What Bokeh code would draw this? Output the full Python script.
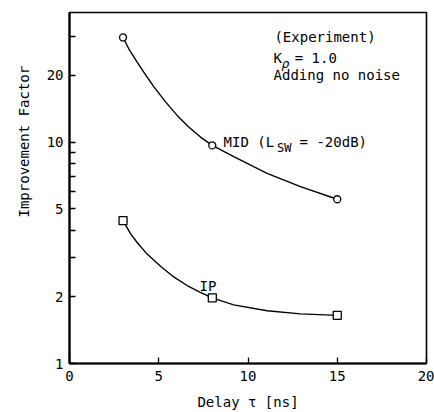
from bokeh.plotting import figure
from bokeh.models import Label, FixedTicker, Range1d
from bokeh.embed import file_html
from bokeh.resources import INLINE

# measured points
delay = [3, 8, 15]
mid_vals = [29.7, 9.66, 5.52]
ip_vals = [4.42, 1.98, 1.65]

# hand-drawn smooth curves
mid_curve_x = [3, 3.32, 3.79, 4.16, 4.72, 5.38, 6.03, 6.68, 7.34, 8, 9.2, 11.07, 12.94, 15]
mid_curve_y = [29.7, 26.4, 23.0, 20.7, 17.8, 15.2, 13.2, 11.7, 10.54, 9.66, 8.59, 7.23, 6.29, 5.52]
ip_curve_x = [3, 3.42, 3.79, 4.35, 5.1, 5.84, 6.59, 7.3, 8, 9.2, 11.07, 12.94, 15]
ip_curve_y = [4.42, 3.86, 3.52, 3.12, 2.75, 2.46, 2.25, 2.1, 1.98, 1.84, 1.73, 1.675, 1.65]

x_ticks = [0, 5, 10, 15, 20]
y_ticks = [1, 2, 3, 4, 5, 6, 7, 8, 9, 10, 20, 30]
y_labelled = [1, 2, 5, 10, 20]

FONT = "DejaVu Sans Mono"

p = figure(width=434, height=412, y_axis_type="log",
           x_range=Range1d(0, 20), y_range=Range1d(1, 38.5),
           output_backend="svg", toolbar_location=None,
           min_border_left=69, min_border_right=8, min_border_top=12,
           min_border_bottom=48)
p.grid.visible = False
p.outline_line_color = "black"
p.outline_line_width = 1.6
p.background_fill_color = "white"
p.border_fill_color = "white"

for ax in (p.xaxis[0], p.yaxis[0]):
    ax.axis_line_width = 2.2
    ax.axis_line_color = "black"
    ax.major_tick_in = 6
    ax.major_tick_out = 0
    ax.major_tick_line_width = 1.3
    ax.minor_tick_in = 0
    ax.minor_tick_out = 0
    ax.major_label_text_font = FONT
    ax.major_label_text_font_size = "14px"
    ax.major_label_text_color = "black"
    ax.axis_label_text_font = FONT
    ax.axis_label_text_font_size = "14px"
    ax.axis_label_text_font_style = "normal"
    ax.axis_label_text_color = "black"

p.xaxis.ticker = FixedTicker(ticks=x_ticks)
p.xaxis.major_label_standoff = 7
p.xaxis.axis_label = "Delay τ [ns]"
p.xaxis.axis_label_standoff = 10

p.yaxis.ticker = FixedTicker(ticks=y_ticks)
p.yaxis.major_label_overrides = {t: (str(t) if t in y_labelled else "") for t in y_ticks}
p.yaxis.major_label_standoff = 6
p.yaxis.axis_label = "\u00a0" * 11 + "Improvement Factor"
p.yaxis.axis_label_standoff = 12

# curves
p.line(mid_curve_x, mid_curve_y, line_color="black", line_width=1.4)
p.line(ip_curve_x, ip_curve_y, line_color="black", line_width=1.4)
p.scatter(delay, mid_vals, marker="circle", size=7, fill_color="white",
          line_color="black", line_width=1.3)
p.scatter(delay, ip_vals, marker="square", size=8, fill_color="white",
          line_color="black", line_width=1.3)


def lab(x, y, t, size="14px", style="normal", align="left"):
    p.add_layout(Label(x=x, y=y, text=t, text_font=FONT, text_font_size=size,
                       text_font_style=style, text_align=align,
                       text_baseline="middle", text_color="black"))


# annotation block
lab(11.48, 29.7, "(Experiment)")
lab(11.43, 24.1, "K")
lab(11.88, 22.6, "ρ", size="13px", style="italic")
lab(12.62, 24.1, "= 1.0")
lab(11.43, 20.0, "Adding no noise")

# series labels
lab(8.63, 10.0, "MID (L")
lab(11.62, 9.45, "SW", size="12px")
lab(12.89, 10.0, "= -20dB)")
lab(7.28, 2.25, "IP")

open("out.html", "w").write(file_html(p, INLINE))
